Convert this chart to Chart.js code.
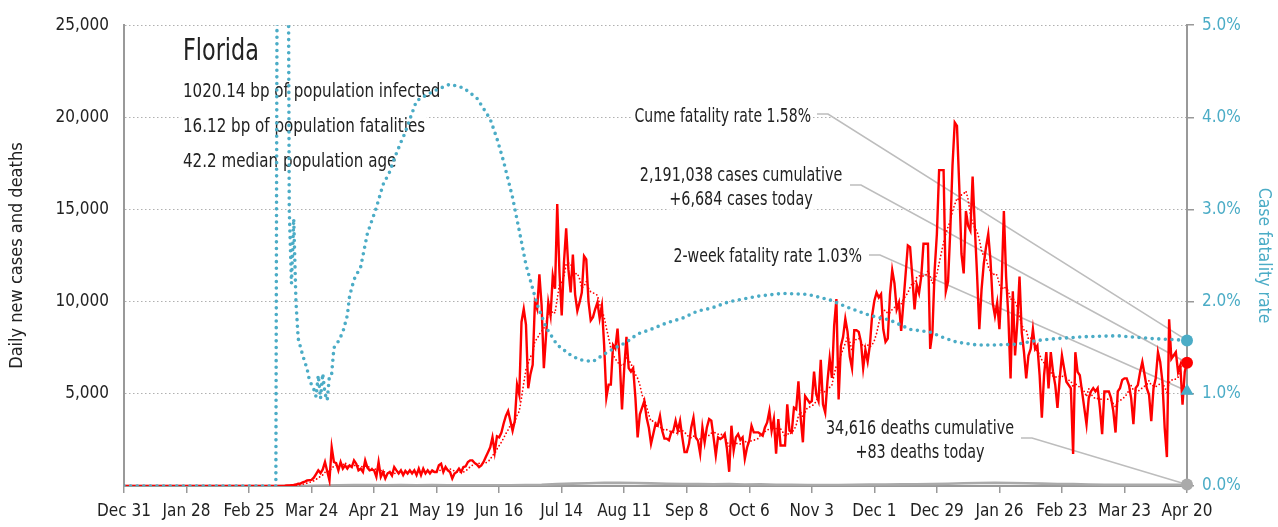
<!DOCTYPE html>
<html>
<head>
<meta charset="utf-8">
<title>Florida</title>
<script src="https://cdn.jsdelivr.net/npm/chart.js@4.4.1/dist/chart.umd.min.js"></script>
<style>
  html, body { margin: 0; padding: 0; background: #fff; }
  #wrap { width: 1278px; height: 527px; }
</style>
</head>
<body>
<div id="wrap"><canvas id="chart" width="1278" height="527"></canvas></div>
<script>
// ---- data (day 0 = Dec 31 2019, day 476 = Apr 20 2021) ----
const tickLabels = ['Dec 31', 'Jan 28', 'Feb 25', 'Mar 24', 'Apr 21', 'May 19', 'Jun 16', 'Jul 14', 'Aug 11',
    'Sep 8', 'Oct 6', 'Nov 3', 'Dec 1', 'Dec 29', 'Jan 26', 'Feb 23', 'Mar 23', 'Apr 20'];

const dailyCases = [
    // Dec 31 - Feb 29
    0, 0, 0, 0, 0, 0, 0, 0, 0, 0, 0, 0, 0, 0, 0, 0, 0, 0, 0, 0, 0, 0, 0, 0, 0, 0, 0, 0, 0, 0, 0,
    0, 0, 0, 0, 0, 0, 0, 0, 0, 0, 0, 0, 0, 0, 0, 0, 0, 0, 0, 0, 0, 0, 0, 0, 0, 0, 0, 0, 0, 0,
    // Mar
    2, 0, 1, 1, 2, 5, 4, 4, 6, 4, 7, 16, 29, 32, 45, 56, 80, 120, 130, 200, 240, 300, 320, 330, 450,
    650, 850, 700, 900, 1300, 800,
    // Apr
    300, 2100, 1300, 1240, 850, 1300, 940, 1120, 940, 1120, 1030, 1390, 1210, 850, 940, 760, 1390, 1000,
    850, 890, 850, 500, 1300, 500, 760, 410, 680, 760, 570, 1030,
    // May
    850, 680, 850, 590, 820, 680, 850, 680, 850, 590, 940, 590, 940, 680, 850, 680, 850, 760, 760, 1120,
    1210, 760, 1030, 850, 760, 410, 680, 760, 940, 760, 1030,
    // Jun
    1070, 1300, 1390, 1390, 1250, 1170, 1030, 1120, 1300, 1570, 1830, 2100, 2640, 1840, 2700, 2640, 2900,
    3390, 3800, 4070, 3540, 3000, 3540, 5500, 4960, 8900, 9600, 8750, 5300, 6070,
    // Jul
    6570, 9960, 9600, 11480, 9800, 6390, 8180, 9960, 9250, 11400, 10700, 15300, 11570, 9250, 12110, 13980,
    11750, 10500, 12560, 10400, 9500, 9960, 10500, 12470, 12290, 10000, 8980, 9160, 9600, 9960, 9100,
    // Aug
    9780, 7640, 4790, 5500, 5500, 7640, 7460, 8540, 6750, 4160, 6390, 8090, 6390, 6210, 6390, 4790, 2640,
    3890, 4250, 4610, 3710, 3180, 2290, 2820, 3360, 3270, 3800, 3000, 2570, 2570, 2480,
    // Sep
    2900, 3000, 3540, 3000, 3540, 2640, 1840, 1840, 2290, 3180, 3710, 2640, 2460, 1750, 3180, 2370, 3180,
    3630, 3540, 2640, 1660, 2640, 2550, 2640, 2820, 2020, 770, 3270, 1930, 2640,
    // Oct
    2820, 2500, 2640, 1480, 2090, 2460, 3270, 2910, 2910, 2910, 2820, 2730, 3180, 3450, 4070, 3000, 3630,
    1750, 3630, 2200, 2200, 2200, 4430, 3000, 2910, 4250, 4160, 5680, 3710, 2370, 4880,
    // Nov
    4700, 4520, 4610, 6210, 4970, 4610, 6840, 4430, 3980, 5680, 6930, 5860, 8710, 10140, 4700, 7590, 8090,
    9070, 8360, 7020, 6390, 8450, 8450, 8360, 7820, 6390, 7380, 6750, 7640, 9250,
    // Dec
    10050, 10500, 10230, 10410, 8500, 7820, 8000, 10400, 11710, 11000, 9580, 9940, 8420, 9940, 11500, 13050,
    12960, 11360, 9580, 10910, 10470, 11360, 13140, 13140, 13140, 7440, 8330, 11710, 13670, 17140, 17140,
    // Jan 2021
    17140, 10560, 11090, 13850, 17410, 19720, 19540, 16340, 12600, 11530, 14920, 14120, 13850, 16790, 14000,
    11450, 8510, 10650, 12070, 12960, 13670, 12250, 9940, 9220, 9940, 8510, 11000, 14920, 11360, 9220, 5840,
    // Feb
    10560, 7080, 8860, 11360, 8330, 7260, 5840, 7080, 7440, 8510, 7440, 7620, 6020, 3700, 6020, 7260, 5300,
    7260, 6190, 5480, 4240, 5840, 7080, 6370, 5660, 5480, 5300, 1740,
    // Mar
    7260, 6190, 6010, 5130, 4240, 3350, 4770, 5130, 5310, 5130, 5310, 4240, 2810, 5130, 5130, 5130, 4770,
    4060, 2900, 5130, 5310, 5750, 5840, 5840, 5480, 4770, 3350, 5310, 5480, 6190, 6730,
    // Apr
    6050, 5310, 4950, 3520, 5310, 5840, 7260, 6730, 5660, 3170, 1570, 9040, 6900, 7080, 7260, 6190, 6550,
    4410, 6190, 6684
];

// cumulative case fatality rate (%), read at these days
const cfrDays = [0, 68, 69, 73, 74, 75, 76, 77, 78, 80, 82, 83, 85, 86, 87, 88, 89, 90, 91, 92, 93, 94, 96,
    98, 100, 101, 103, 106, 109, 111, 113, 116, 119, 121, 124, 126, 128, 131, 136, 140, 146, 152, 158, 164,
    167, 170, 174, 177, 180, 185, 189, 194, 200, 204, 210, 215, 220, 225, 230, 236, 243, 250, 257, 263, 271,
    284, 295, 306, 316, 325, 334, 343, 352, 361, 367, 373, 382, 391, 400, 409, 418, 430, 445, 460, 469, 476];
const cfrRates = [0, 0, 10, 10, 3.0, 2.2, 2.9, 2.0, 1.6, 1.42, 1.27, 1.15, 1.05, 0.97, 1.2, 0.95, 1.22, 1.0,
    0.93, 1.2, 1.22, 1.5, 1.57, 1.67, 1.85, 2.06, 2.24, 2.38, 2.74, 2.88, 3.02, 3.27, 3.41, 3.55, 3.73, 3.84,
    3.98, 4.18, 4.25, 4.30, 4.36, 4.32, 4.21, 3.98, 3.77, 3.52, 3.13, 2.77, 2.4, 1.97, 1.72, 1.53, 1.42, 1.37,
    1.35, 1.43, 1.50, 1.56, 1.65, 1.70, 1.77, 1.82, 1.90, 1.93, 2.0, 2.06, 2.09, 2.08, 2.02, 1.93, 1.85, 1.80,
    1.70, 1.67, 1.61, 1.56, 1.53, 1.53, 1.54, 1.58, 1.60, 1.62, 1.63, 1.60, 1.59, 1.58];

// daily deaths, read at these days
const deathDays = [61, 68, 75, 82, 89, 96, 103, 110, 117, 124, 131, 138, 145, 152, 159, 166, 173, 180, 187, 194,
    201, 208, 215, 222, 229, 236, 243, 250, 257, 264, 271, 278, 285, 292, 299, 306, 313, 320, 327, 334, 341,
    348, 355, 362, 369, 376, 383, 390, 397, 404, 411, 418, 425, 432, 439, 446, 453, 460, 467, 474, 476];
const deathCounts = [0, 1, 5, 10, 25, 40, 50, 45, 40, 45, 40, 45, 35, 40, 35, 35, 40, 45, 60, 100, 130, 150,
    180, 170, 160, 140, 120, 110, 100, 90, 110, 80, 90, 70, 60, 50, 50, 55, 60, 75, 80, 90, 95, 100, 120, 150,
    160, 170, 160, 150, 130, 110, 100, 80, 70, 70, 60, 60, 60, 70, 83];

const lastDay = 476;
const cumeRate = 1.58;
const twoWeekRate = 1.03;
const todayCases = 6684;
const todayDeaths = 83;

const titleText = 'Florida';
const titleLines = ['1020.14 bp of population infected', '16.12 bp of population fatalities', '42.2 median population age'];
const cumeLabel = ['Cume fatality rate 1.58%'];
const casesLabel = ['2,191,038 cases cumulative', '+6,684 cases today'];
const twoWeekLabel = ['2-week fatality rate 1.03%'];
const deathsLabel = ['34,616 deaths cumulative', '+83 deaths today'];

if (dailyCases.length !== lastDay + 1) console.error('dailyCases length', dailyCases.length);

// ---- styles ----
const RED = '#ff0000';
const TEAL = '#4bacc6';
const GRAY = '#aaaaaa';
const INK = '#222222';
const FONT = '"Liberation Sans Narrow", "DejaVu Sans Condensed", "Roboto Condensed", sans-serif';

Chart.defaults.font.family = FONT;
Chart.defaults.color = INK;

// 7 day trailing average of the daily cases
const avgPoints = [];
dailyCases.forEach((v, i) => {
    if (i < 61) return;
    const from = Math.max(0, i - 6);
    const win = dailyCases.slice(from, i + 1);
    avgPoints.push({ x: i, y: win.reduce((a, b) => a + b, 0) / win.length });
});

const casePoints = dailyCases.map((v, i) => ({ x: i, y: v }));
const cfrPoints = cfrDays.map((d, i) => ({ x: d, y: cfrRates[i] }));
const deathPoints = [{ x: 0, y: 0 }].concat(deathDays.map((d, i) => ({ x: d, y: deathCounts[i] })));

// text squeezed horizontally to mimic the condensed face, white box behind it
function bgText(ctx, text, x, baseline, size, align, squeeze) {
    ctx.save();
    ctx.translate(x, baseline);
    ctx.scale(squeeze, 1);
    ctx.font = size + 'px ' + FONT;
    ctx.textAlign = align;
    ctx.textBaseline = 'alphabetic';
    const w = ctx.measureText(text).width;
    let left = 0;
    if (align === 'right') left = -w;
    if (align === 'center') left = -w / 2;
    ctx.fillStyle = '#fff';
    ctx.fillRect(left - 2, -size * 0.95, w + 4, size * 1.2);
    ctx.fillStyle = INK;
    ctx.fillText(text, 0, 0);
    ctx.restore();
}

function leader(ctx, x0, y0, x1, y1) {
    ctx.beginPath();
    ctx.moveTo(x0, y0);
    ctx.lineTo(x0 + 11, y0);
    ctx.lineTo(x1, y1);
    ctx.stroke();
}

const calloutPlugin = {
    id: 'callouts',
    beforeDatasetsDraw(chart) {
        const { ctx, scales } = chart;
        const ex = scales.x.getPixelForValue(lastDay);
        ctx.save();

        // leader lines
        ctx.strokeStyle = '#bdbdbd';
        ctx.lineWidth = 1.6;
        leader(ctx, 817, 114, ex, scales.y1.getPixelForValue(cumeRate));
        leader(ctx, 850, 185, ex, scales.y.getPixelForValue(todayCases));
        leader(ctx, 869, 255, ex, scales.y1.getPixelForValue(twoWeekRate));
        leader(ctx, 1021, 438, ex, scales.y.getPixelForValue(todayDeaths));

        // state block
        bgText(ctx, titleText, 183, 60, 31, 'left', 0.8);
        titleLines.forEach((t, i) => bgText(ctx, t, 183, 97 + i * 34.8, 20, 'left', 0.84));

        // callout texts
        bgText(ctx, cumeLabel[0], 811, 122, 19, 'right', 0.82);
        bgText(ctx, casesLabel[0], 741, 181, 19, 'center', 0.84);
        bgText(ctx, casesLabel[1], 741, 205, 19, 'center', 0.84);
        bgText(ctx, twoWeekLabel[0], 862, 262, 19, 'right', 0.83);
        bgText(ctx, deathsLabel[0], 920, 434, 19, 'center', 0.84);
        bgText(ctx, deathsLabel[1], 920, 458, 19, 'center', 0.84);
        ctx.restore();
    }
};

const endMarker = (yAxisID, y, color, style, r) => ({
    data: [{ x: lastDay, y: y }],
    yAxisID: yAxisID,
    showLine: false,
    pointStyle: style,
    pointRadius: r,
    pointBackgroundColor: color,
    pointBorderColor: color,
    pointBorderWidth: 0,
    clip: false,
    order: 0
});

new Chart(document.getElementById('chart'), {
    type: 'line',
    data: {
        datasets: [
            endMarker('y', todayCases, RED, 'circle', 6),
            endMarker('y1', cumeRate, TEAL, 'circle', 6),
            endMarker('y1', twoWeekRate, TEAL, 'triangle', 7.5),
            endMarker('y', todayDeaths, GRAY, 'circle', 6),
            {
                label: 'Case fatality rate',
                data: cfrPoints,
                yAxisID: 'y1',
                borderColor: TEAL,
                borderWidth: 3.6,
                borderDash: [0, 6.6],
                borderCapStyle: 'round',
                pointRadius: 0,
                order: 1
            },
            {
                label: '7-day average',
                data: avgPoints,
                yAxisID: 'y',
                borderColor: RED,
                borderWidth: 1.8,
                borderDash: [0, 3.6],
                borderCapStyle: 'round',
                pointRadius: 0,
                order: 2
            },
            {
                label: 'New cases',
                data: casePoints,
                yAxisID: 'y',
                borderColor: RED,
                borderWidth: 2.4,
                pointRadius: 0,
                order: 3
            },
            {
                label: 'Deaths',
                data: deathPoints,
                yAxisID: 'y',
                borderColor: GRAY,
                borderWidth: 2.6,
                pointRadius: 0,
                order: 4
            }
        ]
    },
    options: {
        responsive: false,
        animation: false,
        devicePixelRatio: 1,
        layout: { padding: { top: 18, left: 0, right: 0, bottom: 0 } },
        plugins: {
            legend: { display: false },
            tooltip: { enabled: false }
        },
        scales: {
            x: {
                type: 'linear',
                min: 0,
                max: lastDay,
                ticks: {
                    stepSize: 28,
                    autoSkip: false,
                    maxRotation: 0,
                    color: INK,
                    padding: 8,
                    font: { size: 17 },
                    callback: (v) => tickLabels[Math.round(v / 28)]
                },
                grid: { drawOnChartArea: false, drawTicks: true, tickLength: 7, color: '#999', lineWidth: 1.5 },
                border: { color: '#999', width: 2 },
                afterFit: (s) => { s.height = 41; }
            },
            y: {
                position: 'left',
                min: 0,
                max: 25000,
                ticks: {
                    stepSize: 5000,
                    color: INK,
                    padding: 15,
                    font: { size: 17 },
                    callback: (v) => v === 0 ? '' : v.toLocaleString('en-US')
                },
                grid: { color: '#b0b0b0', lineWidth: 1, drawTicks: false },
                border: { color: '#999', width: 2, dash: [1.5, 2.5] },
                title: { display: true, text: 'Daily new cases and deaths', color: INK, font: { size: 18 },
                    padding: { top: 7, bottom: 0 } },
                afterFit: (s) => { s.width = 124; }
            },
            y1: {
                position: 'right',
                min: 0,
                max: 5,
                ticks: {
                    stepSize: 1,
                    color: TEAL,
                    padding: 8,
                    font: { size: 17 },
                    callback: (v) => v.toFixed(1) + '%'
                },
                grid: { drawOnChartArea: false, drawTicks: true, tickLength: 7, color: '#999', lineWidth: 1.5 },
                border: { color: '#999', width: 2 },
                title: { display: true, text: 'Case fatality rate', color: TEAL, font: { size: 17.5 },
                    padding: { top: 4, bottom: 0 } },
                afterFit: (s) => { s.width = 91; }
            }
        }
    },
    plugins: [calloutPlugin]
});
</script>
</body>
</html>
